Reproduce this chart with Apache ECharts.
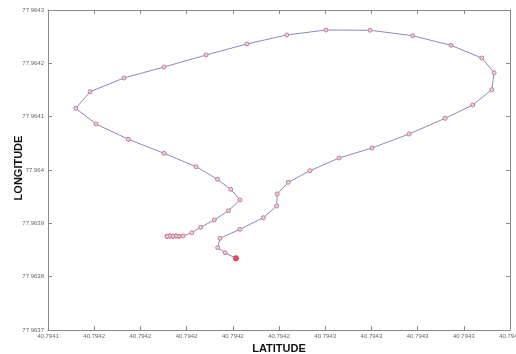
<!DOCTYPE html>
<html><head><meta charset="utf-8">
<script src="https://cdn.jsdelivr.net/npm/echarts@6/dist/echarts.min.js"></script>
<style>html,body{margin:0;padding:0;background:#fff}#c{width:516px;height:354px}</style>
</head><body><div id="c"></div>
<script>
// Track latitude (x) and longitude (y), in path order
const latitude = [40.7942182,40.7942140,40.7942111,40.7942120,40.7942198,40.7942289,40.7942341,40.7942343,40.7942386,40.7942471,
  40.7942584,40.7942712,40.7942857,40.7942997,40.7943105,40.7943179,40.7943188,40.7943140,40.7943020,40.7942871,
  40.7942705,40.7942533,40.7942380,40.7942225,40.7942066,40.7941902,40.7941746,40.7941614,40.7941558,40.7941637,
  40.7941763,40.7941902,40.7942027,40.7942110,40.7942162,40.7942198,40.7942153,40.7942098,40.7942045,40.7942010,
  40.7941976,40.7941960,40.7941949,40.7941937,40.7941925,40.7941914];
const longitude = [77.9638344,77.9638449,77.9638543,77.9638719,77.9638888,77.9639106,77.9639325,77.9639550,77.9639769,77.9639987,
  77.9640225,77.9640413,77.9640675,77.9640969,77.9641219,77.9641506,77.9641825,77.9642100,77.9642338,77.9642518,
  77.9642620,77.9642625,77.9642531,77.9642363,77.9642156,77.9641931,77.9641725,77.9641468,77.9641157,77.9640863,
  77.9640576,77.9640313,77.9640062,77.9639826,77.9639638,77.9639438,77.9639237,77.9639063,77.9638926,77.9638824,
  77.9638763,77.9638757,77.9638763,77.9638757,77.9638763,77.9638757];
// indices of points drawn strongly red (stationary cluster)
const redFrom = 41;
const endIndex = 0;

const xTickLabels = ['40.7941','40.7942','40.7942','40.7942','40.7942','40.7942','40.7943','40.7943','40.7943','40.7943','40.7943'];
const xMin = 40.794145, xStep = 0.000018;
const yTickLabels = ['77.9637','77.9638','77.9639','77.964','77.9641','77.9642','77.9643'];
const yMin = 77.9637, yStep = 0.0001;
const xName = 'LATITUDE', yName = 'LONGITUDE';

const xTicks = xTickLabels.map((_, i) => xMin + i * xStep);
const yTicks = yTickLabels.map((_, i) => yMin + i * yStep);
const xMax = xTicks[xTicks.length - 1], yMax = yTicks[yTicks.length - 1];
const xLabel = v => xTickLabels[Math.round((v - xMin) / xStep)] ?? '';
const yLabel = v => yTickLabels[Math.round((v - yMin) / yStep)] ?? '';

const pts = latitude.map((x, i) => [x, longitude[i]]);
const linePts = pts.map((p, i) => i === endIndex ? {value: p, symbol: 'none'} : p);
const chart = echarts.init(document.getElementById('c'), null, {renderer: 'canvas'});
const axisCol = '#8a8a8a';
const mkX = (pos, show) => ({
  type: 'value', position: pos, min: xMin, max: xMax,
  axisLine: {show: true, onZero: false, lineStyle: {color: axisCol, width: 1}},
  axisTick: {show: true, inside: true, length: 4, customValues: xTicks, lineStyle: {color: axisCol}},
  axisLabel: {show: show, customValues: xTicks, formatter: xLabel, fontSize: 6, color: '#666', margin: 3, showMaxLabel: true, showMinLabel: true, hideOverlap: false, fontFamily: 'Liberation Sans'},
  splitLine: {show: false},
  name: show ? xName : '', nameLocation: 'middle', nameGap: 12,
  nameTextStyle: {fontSize: 11, fontWeight: 'bold', color: '#111', fontFamily: 'Liberation Sans'}
});
const mkY = (pos, show) => ({
  type: 'value', position: pos, min: yMin, max: yMax,
  axisLine: {show: true, onZero: false, lineStyle: {color: axisCol, width: 1}},
  axisTick: {show: true, inside: true, length: 4, customValues: yTicks, lineStyle: {color: axisCol}},
  axisLabel: {show: show, customValues: yTicks, formatter: yLabel, fontSize: 6, color: '#666', margin: 4, showMaxLabel: true, showMinLabel: true, fontFamily: 'Liberation Sans'},
  splitLine: {show: false}
});
chart.setOption({
  animation: false,
  backgroundColor: '#fff',
  grid: {left: 48, right: 6, top: 10, bottom: 24, containLabel: false, outerBoundsMode: 'none'},
  xAxis: [mkX('bottom', true), mkX('top', false)],
  yAxis: [mkY('left', true), mkY('right', false)],
  graphic: [{
    type: 'text', x: 19, y: 168, rotation: Math.PI / 2,
    style: {text: yName, fontSize: 11, fontWeight: 'bold', fill: '#111', fontFamily: 'Liberation Sans', align: 'center', verticalAlign: 'middle'}
  }],
  series: [
    {type: 'line', data: linePts, symbol: 'circle', symbolSize: 4, showSymbol: true,
     lineStyle: {color: '#8e86c8', width: 1},
     itemStyle: {color: '#ead0da', borderColor: '#cc7a90', borderWidth: 1}},
    {type: 'scatter', data: pts.slice(redFrom), symbol: 'circle', symbolSize: 4,
     itemStyle: {color: '#e05060', borderColor: '#d02030', borderWidth: 1}},
    {type: 'scatter', data: [pts[endIndex]], symbol: 'circle', symbolSize: 6,
     itemStyle: {color: '#e01818'}}
  ]
});
</script></body></html>
